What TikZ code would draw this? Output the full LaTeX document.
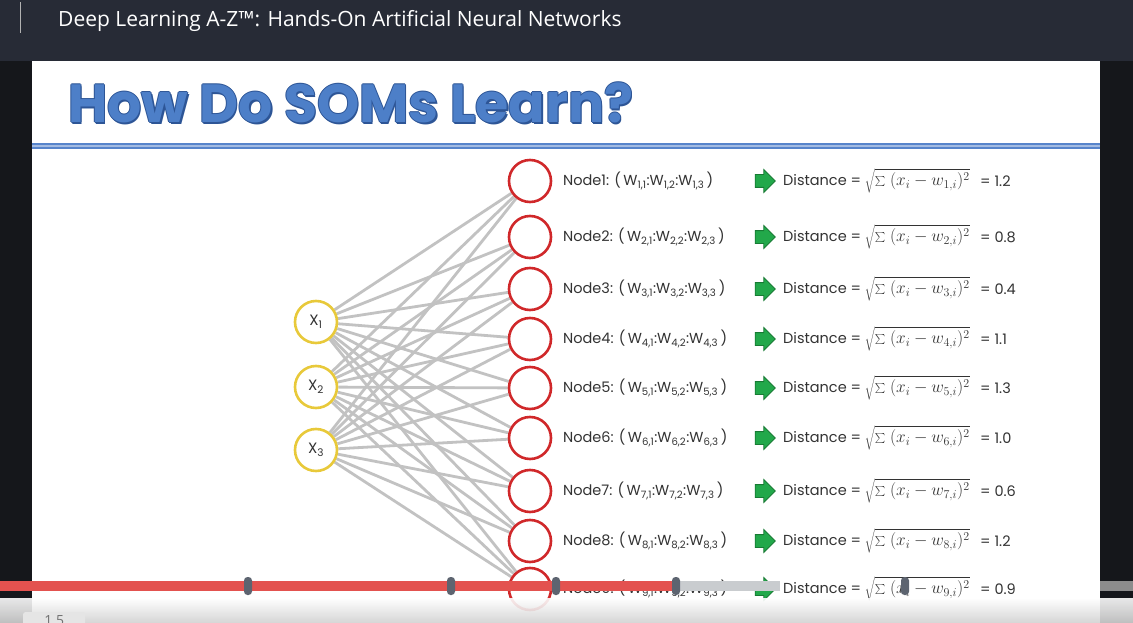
\documentclass[tikz,border=0pt]{standalone}
\usepackage{fontspec}
\setmainfont{Poppins}
\newfontfamily\uifont{Open Sans}
\usetikzlibrary{shapes.arrows,positioning,backgrounds}
\definecolor{topbar}{HTML}{272B36}
\definecolor{sideblack}{HTML}{15171B}
\definecolor{titleblue}{HTML}{4D7FC8}
\definecolor{titleedge}{HTML}{2D5596}
\definecolor{ruleblue}{HTML}{5784CB}
\definecolor{inring}{HTML}{E8C93A}
\definecolor{outring}{HTML}{D0282A}
\definecolor{wirecol}{HTML}{C2C2C2}
\definecolor{arrowgreen}{HTML}{22A84A}
\definecolor{arrowedge}{HTML}{177A33}
\definecolor{barred}{HTML}{E3524F}
\definecolor{bargray}{HTML}{C9CCCF}
\definecolor{knob}{HTML}{5D6470}
\definecolor{labeltext}{HTML}{333333}

\newcommand{\wt}[1]{W\textsubscript{#1}}

\begin{document}
\begin{tikzpicture}[x=1pt, y=-1pt,
  inp/.style={circle, draw=inring, line width=2.6pt, fill=white,
              minimum size=42pt, inner sep=0pt, text=labeltext,
              font=\fontsize{15}{15}\selectfont},
  som/.style={circle, draw=outring, line width=2.6pt, fill=white,
              minimum size=42pt, inner sep=0pt},
  link/.style={draw=wirecol, line width=2.8pt},
  lbl/.style={anchor=west, inner sep=0pt, text=labeltext,
              font=\fontsize{14.5}{15}\selectfont},
  pick/.style={single arrow, fill=arrowgreen, draw=arrowedge, line width=0.8pt,
               minimum height=20pt, text height=6pt, text depth=6pt,
               single arrow head extend=5pt, inner sep=0pt},
  knobmark/.style={fill=knob, rounded corners=3.5pt, minimum width=8pt,
                   minimum height=18pt, inner sep=0pt}
]
\useasboundingbox (0,0) rectangle (1133,623);
\clip (0,0) rectangle (1133,623);

% player frame
\begin{scope}[on background layer]
\fill[sideblack] (0,0) rectangle (1133,623);
\fill[topbar] (0,0) rectangle (1133,61);
\draw[gray!60, line width=0.8pt] (20,2) -- (20,33);
\fill[white] (32,61) rectangle (1100,623);
\end{scope}
\node[anchor=west, inner sep=0pt, text=white, font=\uifont\fontsize{21}{21}\selectfont]
  (course) at (58,21) {Deep Learning A-Z™: Hands-On Artificial Neural Networks};

% slide title
\foreach \dx/\dy [count=\k] in {1/0,-1/0,0/1,0/-1,1.4/1.4}
  \node[anchor=west, inner sep=0pt, text=titleedge] (ts\k) at (68+\dx,103+\dy)
    {\resizebox{565pt}{!}{\bfseries How Do SOMs Learn?}};
\node[anchor=west, inner sep=0pt, text=titleblue] (title) at (68,103)
  {\resizebox{565pt}{!}{\bfseries How Do SOMs Learn?}};
\fill[ruleblue] (32,143) rectangle (1100,149);
\fill[ruleblue!55] (32,145.5) rectangle (1100,147);

% inputs
\node[inp] (x1) at (316,322) {X\textsubscript{1}};
\node[inp] (x2) at (316,387) {X\textsubscript{2}};
\node[inp] (x3) at (316,450) {X\textsubscript{3}};

% map nodes and their distances
\foreach \y/\d [count=\k] in {181/1.2,237/0.8,289/0.4,339/1.1,388/1.3,
                              438/1.0,491/0.6,541/1.2,589/0.9} {
  \node[som] (n\k) at (530,\y) {};
  \node[lbl] (l\k) at (563,\y)
    {Node\k: (\,\wt{\k,1}:\wt{\k,2}:\wt{\k,3}\,)};
  \node[pick] (a\k) at (762,\y) {};
  \node[lbl] (d\k) at (783,\y)
    {Distance = {\fontsize{17}{18}\selectfont$\sqrt{\sum\ (x_i - w_{\k,i})^2}$}};
  \node[lbl] (v\k) at (980,\y) {= \d};
}

% connections
\begin{scope}[on background layer]
\foreach \i in {1,2,3}
  \foreach \j in {1,...,9}
    \draw[link] (x\i) -- (n\j);
\end{scope}

% player controls
\shade[top color=white, bottom color=black!18, opacity=0.9] (0,598) rectangle (1133,623);
\fill[barred] (0,581) rectangle (676,591);
\fill[bargray] (676,581) rectangle (780,591);
\fill[black!45] (1100,581) rectangle (1133,591);
\foreach \x [count=\k] in {248,451,556,676,905}
  \node[knobmark] (k\k) at (\x,586) {};
\node[fill=black!10, minimum width=62pt, minimum height=16pt, anchor=north west,
      inner sep=0pt, text=black!55, font=\uifont\fontsize{14}{14}\selectfont,
      rounded corners=2pt] (speed) at (23,612) {\raisebox{-7pt}{1.5}};
\end{tikzpicture}
\end{document}
